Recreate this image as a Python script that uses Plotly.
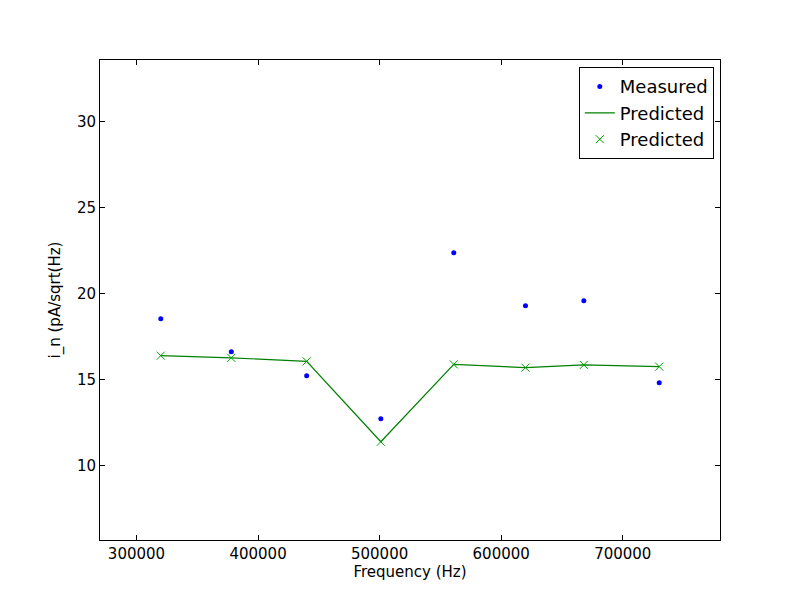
import plotly.graph_objects as go

## Dados
freq = [320000, 378000, 440000, 501000, 561000, 620000, 668000, 730000]
medido = [18.54, 16.63, 15.23, 12.73, 22.37, 19.29, 19.58, 14.82]
previsto = [16.40, 16.27, 16.07, 11.40, 15.89, 15.70, 15.86, 15.76]

## Limites dos eixos como no matplotlib original
x_min = min(freq) - 50000
x_max = max(freq) + 50000
y_min = 0.5 * min(previsto)
y_max = 1.5 * max(medido)

fig = go.Figure()
fig.add_trace(go.Scatter(x=freq, y=medido, mode='markers', name='Measured',
                marker=dict(color='rgb(0,0,255)', size=5)))
fig.add_trace(go.Scatter(x=freq, y=previsto, mode='lines', name='Predicted',
                line=dict(color='rgb(0,128,0)', width=1.2)))
fig.add_trace(go.Scatter(x=freq, y=previsto, mode='markers', name='Predicted',
                marker=dict(symbol='x-thin', size=8, color='rgb(0,128,0)',
                            line=dict(color='rgb(0,160,0)', width=1))))

eixo = dict(showline=True, linecolor='black', linewidth=1, mirror='ticks',
            ticks='inside', ticklen=5, tickcolor='black', showgrid=False,
            zeroline=False, tickfont=dict(size=15, color='black'))

## margem do body da pagina (8px) compensada nas margens
fig.update_layout(width=800, height=600, paper_bgcolor='white', plot_bgcolor='white',
                  margin=dict(l=92, r=88, t=52, b=68),
                  font=dict(family='DejaVu Sans', color='black'),
                  showlegend=True,
                  legend=dict(x=0.99, y=0.985, xanchor='right', yanchor='top',
                              bordercolor='black', borderwidth=1, bgcolor='white',
                              font=dict(size=18), tracegroupgap=0))
fig.update_xaxes(range=[x_min, x_max], tickvals=[300000, 400000, 500000, 600000, 700000],
                 ticktext=['300000', '400000', '500000', '600000', '700000'],
                 title=dict(text='Frequency (Hz)', font=dict(size=15), standoff=4), **eixo)
fig.update_yaxes(range=[y_min, y_max], tickvals=[10, 15, 20, 25, 30],
                 title=dict(text='i_n (pA/sqrt(Hz)', font=dict(size=15), standoff=12), **eixo)

fig.write_html("out.html")
